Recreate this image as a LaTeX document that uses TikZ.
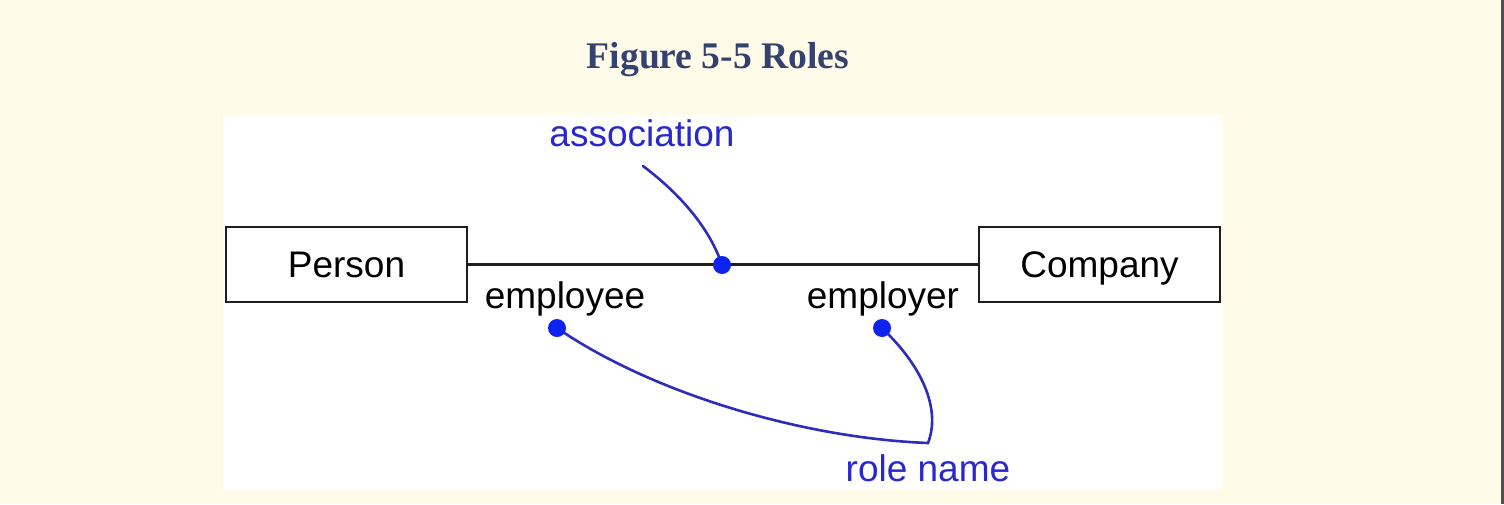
\documentclass[tikz,border=0pt]{standalone}
\usepackage{fontspec}
\setmainfont{Liberation Serif}
\newfontfamily\arialf{Liberation Sans}
\definecolor{cream}{RGB}{255,251,232}
\definecolor{strip}{RGB}{80,80,86}
\definecolor{titleblue}{RGB}{52,66,112}
\definecolor{labelblue}{RGB}{40,40,205}
\definecolor{curveblue}{RGB}{45,45,185}
\definecolor{dotblue}{RGB}{15,35,240}
\definecolor{boxline}{RGB}{30,30,30}
\begin{document}
\begin{tikzpicture}[x=0.5pt,y=-0.5pt,
  title/.style={font=\bfseries\fontsize{18.8}{20}\selectfont, text=titleblue, inner sep=0pt, anchor=base},
  lbl/.style={font=\arialf\fontsize{18.5}{20}\selectfont, inner sep=0pt, anchor=base},
  bluelbl/.style={lbl, text=labelblue},
  classbox/.style={draw=boxline, line width=1.2pt, fill=white, font=\arialf\fontsize{18.5}{20}\selectfont,
    minimum width=120.5pt, minimum height=37.5pt, text height=13.2pt, text depth=0pt, inner sep=0pt},
  assoc/.style={draw=boxline, line width=1.2pt},
  blueline/.style={draw=curveblue, line width=1.3pt, line cap=round},
  dotnode/.style={circle, fill=dotblue, inner sep=0pt, minimum size=9pt}]
\fill[cream] (0,0) rectangle (1504,504);
\useasboundingbox (0,0) rectangle (1504,504);
\fill[strip] (1501,0) rectangle (1504,504);
\fill[white] (223,115) rectangle (1222,490);
\node[title] (ttl) at (718,68) {Figure 5-5 Roles};
\node[classbox] (person) at (346.5,264.5) {Person};
\node[classbox] (company) at (1099.5,264.5) {Company};
\draw[assoc] (person) -- (company);
\node[bluelbl] (assoclbl) at (642,146) {association};
\node[lbl] (employee) at (565,308) {employee};
\node[lbl] (employer) at (883,308) {employer};
\node[bluelbl] (rolelbl) at (928,481) {role name};
\coordinate (p1) at (722,265);
\coordinate (p2) at (557,328);
\coordinate (p3) at (882,328);
\coordinate (a0) at (643,166);
\coordinate (rn) at (928,443);
\draw[blueline] (a0) .. controls (688,200) and (712,235) .. (p1);
\draw[blueline] (p2) .. controls (650,392) and (800,438) .. (rn)
  .. controls (940,412) and (926,370) .. (p3);
\node[dotnode] (d1) at (p1) {};
\node[dotnode] (d2) at (p2) {};
\node[dotnode] (d3) at (p3) {};
\end{tikzpicture}
\end{document}
